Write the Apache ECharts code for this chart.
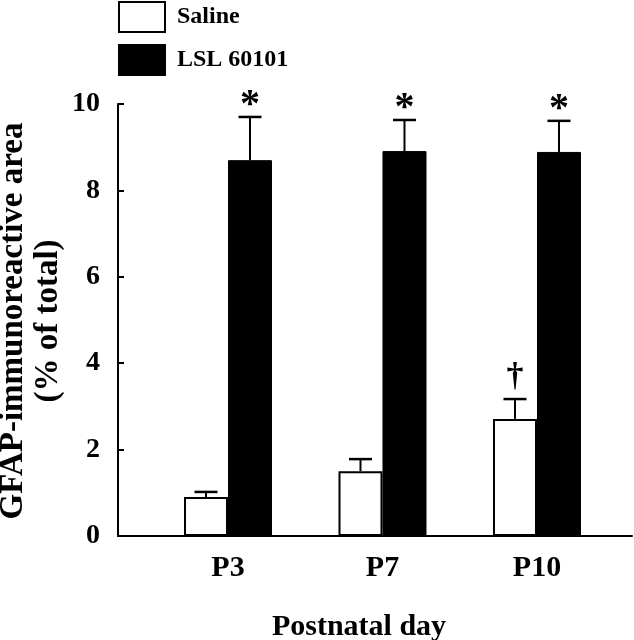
<!DOCTYPE html>
<html><head><meta charset="utf-8">
<script src="https://cdn.jsdelivr.net/npm/echarts@6/dist/echarts.min.js"></script>
<style>html,body{margin:0;padding:0;background:#fff}#c{width:634px;height:640px}</style>
</head><body><div id="c"></div>
<script>
const categories = ['P3', 'P7', 'P10'];
const seriesNames = ['Saline', 'LSL 60101'];
const salineMean = [0.90, 1.50, 2.71];
const salineErr = [0.12, 0.28, 0.46];
const lslMean = [8.70, 8.91, 8.89];
const lslErr = [1.00, 0.72, 0.72];
const salineMarks = ['', '', '\u2020'];
const lslMarks = ['*', '*', '*'];
const yTicks = [0, 2, 4, 6, 8, 10];
const yTitle = 'GFAP-immunoreactive area\n(% of total)';
const xTitle = 'Postnatal day';

const FONT = '"Liberation Serif", "Times New Roman", serif';
const BAR_W = 44;
const CAP = 23;
const xPos = categories.map((c, i) => i + 1);

function barData(means) { return categories.map((c, i) => [xPos[i], means[i]]); }

function errSeries(means, errs, marks, side) {
  return {
    type: 'custom',
    silent: true,
    z: 1,
    data: categories.map((c, i) => [xPos[i], means[i], means[i] + errs[i]]),
    renderItem(params, api) {
      const x = api.value(0);
      const b = api.coord([x, api.value(1)]);
      const t = api.coord([x, api.value(2)]);
      const cx = b[0] + side * BAR_W / 2;
      const children = [
        { type: 'line', shape: { x1: cx, y1: b[1], x2: cx, y2: t[1] }, style: { stroke: '#000', lineWidth: 2 } },
        { type: 'line', shape: { x1: cx - CAP / 2, y1: t[1], x2: cx + CAP / 2, y2: t[1] }, style: { stroke: '#000', lineWidth: 2.5 } }
      ];
      const m = marks[params.dataIndex];
      if (m === '*') {
        children.push({ type: 'text', style: { text: m, x: cx, y: t[1] - 11, align: 'center', verticalAlign: 'middle', font: 'bold 40px ' + FONT, fill: '#000' } });
      } else if (m) {
        children.push({ type: 'text', style: { text: m, x: cx, y: t[1] - 22, align: 'center', verticalAlign: 'middle', font: 'bold 34px ' + FONT, fill: '#000' } });
      }
      return { type: 'group', children };
    }
  };
}

const chart = echarts.init(document.getElementById('c'), null, { renderer: 'canvas' });
chart.setOption({
  animation: false,
  backgroundColor: '#fff',
  textStyle: { fontFamily: FONT, color: '#000' },
  legend: {
    orient: 'vertical', left: 118, top: 1, padding: 0,
    icon: 'rect',
    itemWidth: 46, itemHeight: 30, itemGap: 11,
    data: seriesNames,
    textStyle: { fontFamily: FONT, fontWeight: 'bold', fontSize: 24, color: '#000', padding: [0, 0, 0, 7] }
  },
  graphic: [{
    type: 'text', x: 31, y: 321, rotation: Math.PI / 2, silent: true,
    style: { text: yTitle, x: 0, y: 0, align: 'center', verticalAlign: 'middle',
      font: 'bold 33px ' + FONT, lineHeight: 35, fill: '#000' }
  }],
  grid: { left: 118, right: 2, top: 104, bottom: 104, containLabel: false, outerBoundsMode: 'none' },
  xAxis: {
    type: 'value', min: 0.288, max: 3.615,
    name: xTitle, nameLocation: 'middle', nameGap: 76,
    nameTextStyle: { fontFamily: FONT, fontWeight: 'bold', fontSize: 30, color: '#000', padding: [0, 32, 0, 0] },
    axisLine: { show: true, onZero: false, lineStyle: { color: '#000', width: 2 } },
    axisTick: { show: false },
    splitLine: { show: false },
    axisLabel: {
      customValues: xPos, margin: 17,
      fontFamily: FONT, fontWeight: 'bold', fontSize: 30, color: '#000',
      formatter: v => categories[Math.round(v) - 1]
    }
  },
  yAxis: {
    type: 'value', min: yTicks[0], max: yTicks[yTicks.length - 1], interval: 2,
    axisLine: { show: true, lineStyle: { color: '#000', width: 2 } },
    axisTick: { show: true, inside: true, length: 6, lineStyle: { color: '#000', width: 2 } },
    splitLine: { show: false },
    axisLabel: { margin: 18, fontFamily: FONT, fontWeight: 'bold', fontSize: 28, color: '#000' }
  },
  series: [
    { name: seriesNames[0], type: 'bar', barWidth: BAR_W, barGap: '0%', z: 2,
      itemStyle: { color: '#fff', borderColor: '#000', borderWidth: 2 },
      data: barData(salineMean) },
    { name: seriesNames[1], type: 'bar', barWidth: BAR_W, barGap: '0%', z: 2,
      itemStyle: { color: '#000', borderColor: '#000', borderWidth: 1 },
      data: barData(lslMean) },
    errSeries(salineMean, salineErr, salineMarks, -1),
    errSeries(lslMean, lslErr, lslMarks, 1)
  ]
});
</script></body></html>
